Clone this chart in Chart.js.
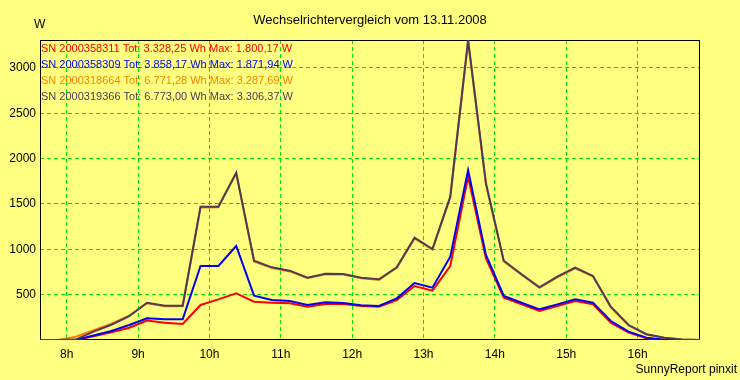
<!DOCTYPE html>
<html><head><meta charset="utf-8">
<script src="https://cdn.jsdelivr.net/npm/chart.js@4.4.1/dist/chart.umd.min.js"></script>
<style>html,body{margin:0;padding:0;background:#ffff80;overflow:hidden}#wrap{width:740px;height:380px}</style>
</head><body><div id="wrap"><canvas id="c" width="740" height="380"></canvas></div>
<script>
const chartTitle = 'Wechselrichtervergleich vom 13.11.2008';
const unitLabel = 'W';
const footerText = 'SunnyReport pinxit';
const times = [7.625, 7.875, 8.125, 8.375, 8.625, 8.875, 9.125, 9.375, 9.625, 9.875, 10.125, 10.375, 10.625, 10.875, 11.125, 11.375, 11.625, 11.875, 12.125, 12.375, 12.625, 12.875, 13.125, 13.375, 13.625, 13.875, 14.125, 14.375, 14.625, 14.875, 15.125, 15.375, 15.625, 15.875, 16.125, 16.375, 16.625, 16.875];
const xTicks = [8, 9, 10, 11, 12, 13, 14, 15, 16];
const yTicks = [500, 1000, 1500, 2000, 2500, 3000];
const serials = ['2000358311', '2000358309', '2000318664', '2000319366'];
const totals = [3328.25, 3858.17, 6771.28, 6773.00];
const maxima = [1800.17, 1871.94, 3287.69, 3306.37];
const colors = ['#ff0000', '#0000ff', '#ff8000', '#4c3a5a'];
const sn2000358311 = [0, 0, 0, 40, 85, 135, 215, 191, 176, 386, 448, 515, 422, 411, 404, 367, 397, 397, 375, 367, 441, 595, 544, 816, 1800.17, 900, 467, 393, 320, 375, 430, 393, 191, 81, 18, 1, 0, 0];
const sn2000358309 = [0, 0, 0, 50, 100, 165, 239, 228, 228, 816, 816, 1036, 489, 441, 430, 386, 415, 408, 382, 375, 459, 628, 577, 919, 1871.94, 937, 485, 411, 338, 393, 448, 411, 209, 92, 26, 2, 0, 0];
const sn2000318664 = [0, 0, 36, 108, 180, 268, 405, 372, 372, 1460, 1462, 1835, 866, 792, 756, 680, 724, 722, 680, 662, 795, 1120, 995, 1570, 3287.69, 1715, 866, 716, 574, 690, 790, 700, 360, 160, 60, 24, 5, 0];
const sn2000319366 = [0, 0, 5, 92, 168, 262, 411, 378, 378, 1470, 1470, 1845, 874, 801, 764, 687, 731, 728, 687, 669, 801, 1128, 1003, 1580, 3306.37, 1727, 874, 724, 581, 698, 797, 706, 367, 165, 64, 26, 6, 0];
const seriesValues = [sn2000358311, sn2000358309, sn2000318664, sn2000319366];
const drawOrder = [3, 1, 2, 0];

function de(n) {
  const parts = n.toFixed(2).split('.');
  const intp = parts[0].replace(/\B(?=(\d{3})+(?!\d))/g, '.');
  return intp + ',' + parts[1];
}
const FONT = '"Liberation Sans", Arial, sans-serif';

const datasets = seriesValues.map((vals, i) => ({
  label: 'SN ' + serials[i] + ' Tot: ' + de(totals[i]) + ' Wh Max: ' + de(maxima[i]) + ' W',
  data: vals.map((v, k) => ({x: times[k], y: v})),
  borderColor: colors[i],
  backgroundColor: colors[i],
  borderWidth: 2,
  pointRadius: 0,
  tension: 0,
  fill: false,
  order: drawOrder[i]
}));

const deco = {
  id: 'deco',
  beforeDatasetsDraw(chart) {
    const {ctx, chartArea: a} = chart;
    ctx.save();
    ctx.strokeStyle = '#000';
    ctx.lineWidth = 1;
    ctx.strokeRect(Math.round(a.left) + 0.5, Math.round(a.top) + 0.5, Math.round(a.right - a.left) - 1, Math.round(a.bottom - a.top) - 1);
    ctx.restore();
  },
  afterDraw(chart) {
    const {ctx, chartArea: a} = chart;
    ctx.save();
    ctx.textBaseline = 'middle';
    ctx.font = '13px ' + FONT;
    ctx.fillStyle = '#000';
    ctx.textAlign = 'center';
    ctx.fillText(chartTitle, 370, 20);
    ctx.font = '12px ' + FONT;
    ctx.textAlign = 'left';
    ctx.fillText(unitLabel, 34, 25);
    ctx.textAlign = 'right';
    ctx.fillText(footerText, 737, 370);
    ctx.font = '11px ' + FONT;
    ctx.textAlign = 'left';
    chart.data.datasets.forEach((ds, i) => {
      ctx.fillStyle = ds.borderColor;
      ctx.fillText(ds.label, a.left + 1, 48.5 + 16 * i);
    });
    ctx.restore();
  }
};

new Chart(document.getElementById('c'), {
  type: 'line',
  data: {datasets},
  options: {
    responsive: false,
    animation: false,
    devicePixelRatio: 1,
    layout: {padding: {top: 40, right: 40, left: 0, bottom: 0}},
    plugins: {legend: {display: false}, title: {display: false}, tooltip: {enabled: false}},
    scales: {
      x: {
        type: 'linear',
        min: times[0],
        max: times[times.length - 1],
        afterBuildTicks: s => { s.ticks = xTicks.map(v => ({value: v})); },
        afterFit: s => { s.height = 40; },
        grid: {color: '#00e600', lineWidth: 1, drawTicks: false},
        border: {display: false, dash: [4, 3]},
        ticks: {padding: 7, color: '#000', font: {family: FONT, size: 12}, callback: v => v + 'h', maxRotation: 0, autoSkip: false}
      },
      y: {
        type: 'linear',
        min: 0,
        max: 3307,
        afterBuildTicks: s => { s.ticks = yTicks.map(v => ({value: v})); },
        afterFit: s => { s.width = 40; },
        grid: {color: '#00e600', lineWidth: 1, drawTicks: false},
        border: {display: false, dash: [4, 3]},
        ticks: {padding: 4, color: '#000', font: {family: FONT, size: 12}, callback: v => String(v), autoSkip: false}
      }
    }
  },
  plugins: [deco]
});
</script></body></html>
